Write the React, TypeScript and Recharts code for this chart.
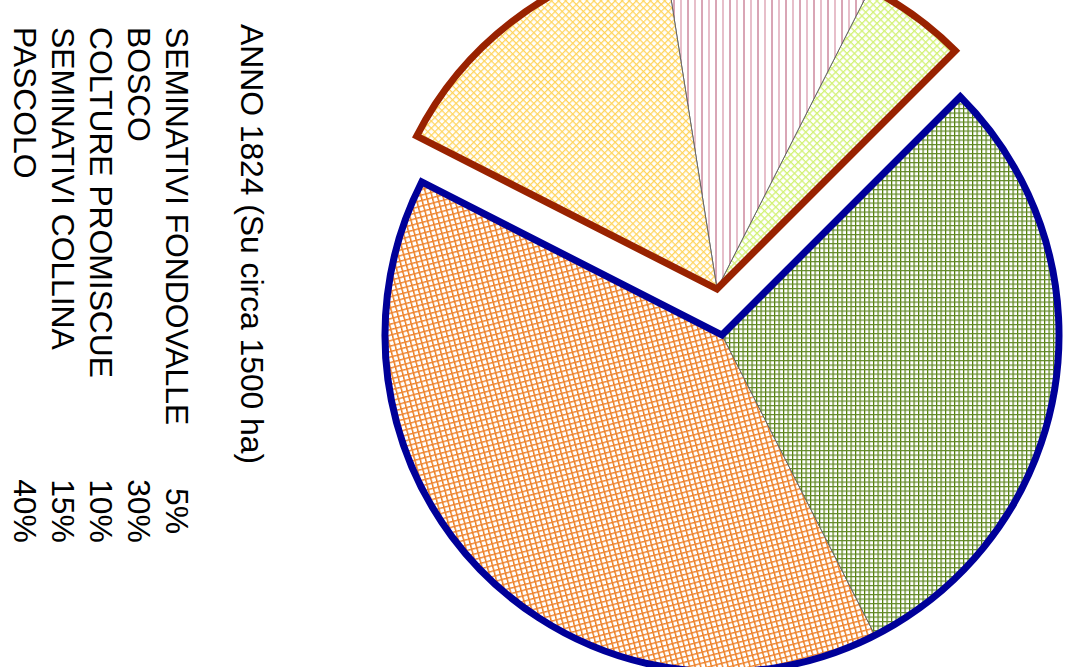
import React from "react";
import { PieChart, Pie, Cell } from "recharts";

const title = "ANNO 1824 (Su circa 1500 ha)";
const categories = [
  "SEMINATIVI FONDOVALLE",
  "BOSCO",
  "COLTURE PROMISCUE",
  "SEMINATIVI COLLINA",
  "PASCOLO",
];
const shares = [5, 30, 10, 15, 40];
const shareLabels = ["5%", "30%", "10%", "15%", "40%"];
const upperGroup = ["SEMINATIVI FONDOVALLE", "COLTURE PROMISCUE", "SEMINATIVI COLLINA"];
const lowerGroup = ["PASCOLO", "BOSCO"];

const patternOf: Record<string, string> = {
  "SEMINATIVI FONDOVALLE": "url(#pFondovalle)",
  BOSCO: "url(#pBosco)",
  "COLTURE PROMISCUE": "url(#pPromiscue)",
  "SEMINATIVI COLLINA": "url(#pCollina)",
  PASCOLO: "url(#pPascolo)",
};

const groupData = (names: string[]) =>
  names.map((n) => ({ name: n, value: shares[categories.indexOf(n)] }));
const upperData = groupData(upperGroup);
const lowerData = groupData(lowerGroup);
const upperTotal = [{ name: "upper", value: upperData.reduce((s, d) => s + d.value, 0) }];
const lowerTotal = [{ name: "lower", value: lowerData.reduce((s, d) => s + d.value, 0) }];

const W = 1070;
const H = 667;
const R = 337;
const font = "'Liberation Sans', Arial, sans-serif";
const FS = 31.8;

const legendBaseX = [166, 128, 90, 52, 14];

export default function App() {
  return (
    <div style={{ position: "absolute", left: 0, top: 0, width: W, height: H, background: "#fff", overflow: "hidden" }}>
      <PieChart width={W} height={H} margin={{ top: 0, right: 0, bottom: 0, left: 0 }}>
        <defs>
          <pattern id="pPascolo" patternUnits="userSpaceOnUse" width="5.3" height="5.3" patternTransform="rotate(-15)">
            <rect width="5.3" height="5.3" fill="#fff" />
            <line x1="0.7" y1="0" x2="0.7" y2="5.3" stroke="#EC7A18" strokeWidth="1.5" />
            <line x1="0" y1="0.7" x2="5.3" y2="0.7" stroke="#EE8430" strokeWidth="1.5" />
          </pattern>
          <pattern id="pBosco" patternUnits="userSpaceOnUse" width="4.5" height="4.5">
            <rect width="4.5" height="4.5" fill="#fff" />
            <line x1="0.6" y1="0" x2="0.6" y2="4.5" stroke="#4F7D00" strokeWidth="1.2" />
            <line x1="0" y1="0.6" x2="4.5" y2="0.6" stroke="#62892A" strokeWidth="1.2" />
          </pattern>
          <pattern id="pCollina" patternUnits="userSpaceOnUse" width="5" height="5" patternTransform="rotate(45)">
            <rect width="5" height="5" fill="#fff" />
            <line x1="0.6" y1="0" x2="0.6" y2="5" stroke="#FFD45C" strokeWidth="1.3" />
            <line x1="0" y1="0.6" x2="5" y2="0.6" stroke="#FFD45C" strokeWidth="1.3" />
          </pattern>
          <pattern id="pFondovalle" patternUnits="userSpaceOnUse" width="5.3" height="5.3" patternTransform="rotate(45)">
            <rect width="5.3" height="5.3" fill="#fff" />
            <line x1="0.6" y1="0" x2="0.6" y2="5.3" stroke="#D3F278" strokeWidth="1.4" />
            <line x1="0" y1="0.6" x2="5.3" y2="0.6" stroke="#D3F278" strokeWidth="1.4" />
          </pattern>
          <pattern id="pPromiscue" patternUnits="userSpaceOnUse" width="14" height="14">
            <rect width="14" height="14" fill="#fff" />
            <line x1="2" y1="0" x2="2" y2="14" stroke="#B44C6C" strokeWidth="1" />
            <line x1="9" y1="0" x2="9" y2="14" stroke="#DB9CAE" strokeWidth="1.3" />
          </pattern>
        </defs>

        <Pie
          data={lowerData}
          dataKey="value"
          nameKey="name"
          cx={722}
          cy={335}
          outerRadius={R}
          innerRadius={0}
          startAngle={153}
          endAngle={405}
          stroke="#666"
          strokeWidth={1}
          isAnimationActive={false}
        >
          {lowerData.map((d) => (
            <Cell key={d.name} fill={patternOf[d.name]} />
          ))}
        </Pie>
        <Pie
          data={lowerTotal}
          dataKey="value"
          cx={722}
          cy={335}
          outerRadius={R}
          innerRadius={0}
          startAngle={153}
          endAngle={405}
          fill="none"
          stroke="#000099"
          strokeWidth={7}
          isAnimationActive={false}
        />
        <Pie
          data={upperData}
          dataKey="value"
          nameKey="name"
          cx={717}
          cy={289}
          outerRadius={R}
          innerRadius={0}
          startAngle={45}
          endAngle={153}
          stroke="#666"
          strokeWidth={1}
          isAnimationActive={false}
        >
          {upperData.map((d) => (
            <Cell key={d.name} fill={patternOf[d.name]} />
          ))}
        </Pie>
        <Pie
          data={upperTotal}
          dataKey="value"
          cx={717}
          cy={289}
          outerRadius={R}
          innerRadius={0}
          startAngle={45}
          endAngle={153}
          fill="none"
          stroke="#992200"
          strokeWidth={7}
          isAnimationActive={false}
        />
      </PieChart>
      <svg
        width={W}
        height={H}
        style={{ position: "absolute", left: 0, top: 0, pointerEvents: "none" }}
      >
        <text
          transform={`translate(241,24) rotate(90)`}
          fontFamily={font}
          fontSize={FS}
          fill="#000"
        >
          {title}
        </text>
        {categories.map((c, i) => (
          <g key={c}>
            <text
              transform={`translate(${legendBaseX[i]},27) rotate(90)`}
              fontFamily={font}
              fontSize={FS}
              fill="#000"
            >
              {c}
            </text>
            <text
              transform={`translate(${legendBaseX[i]},511) rotate(90)`}
              fontFamily={font}
              fontSize={FS}
              textAnchor="middle"
              fill="#000"
            >
              {shareLabels[i]}
            </text>
          </g>
        ))}
      </svg>
    </div>
  );
}
